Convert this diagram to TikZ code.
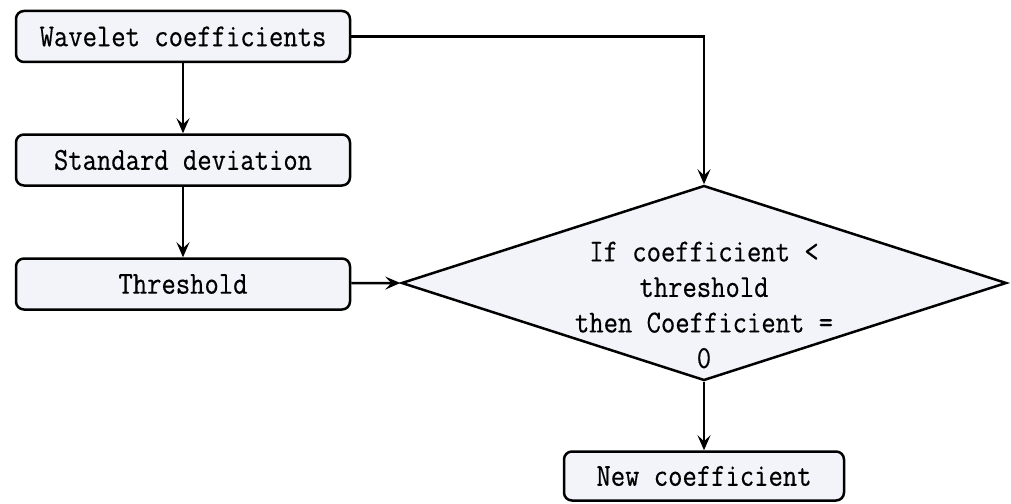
\documentclass[tikz,border=0pt]{standalone}
\usepackage{fontspec}
\newfontfamily\boxfont[FakeStretch=0.87,FakeBold=0.4]{Latin Modern Mono}
\usetikzlibrary{shapes.geometric,arrows.meta}
\definecolor{boxfill}{HTML}{F3F4F9}
\tikzset{
  procbox/.style={draw=black, line width=2.5pt, rounded corners=8pt, fill=boxfill,
    minimum width=334pt, minimum height=51pt, inner sep=0pt,
    font=\boxfont\fontsize{32}{35}\selectfont},
  decbox/.style={draw=black, line width=2.5pt, fill=boxfill, shape=diamond,
    minimum width=605pt, minimum height=195pt, inner sep=0pt},
  dectext/.style={align=center, inner sep=0pt, font=\boxfont\fontsize{32}{35.5}\selectfont},
  conn/.style={draw=black, line width=2.5pt, -{Stealth[length=15pt,width=13pt,inset=6pt]}}
}
\begin{document}
\begin{tikzpicture}[x=1pt,y=-1pt]
\useasboundingbox (0,0) rectangle (1011,503);
\node[procbox] (wav) at (183,36.5) {Wavelet coefficients};
\node[procbox] (std) at (183,160) {Standard deviation};
\node[procbox] (thr) at (183,284) {Threshold};
\node[decbox] (dec) at (704,283) {};
\node[dectext] (dtx) at (704,305) {If coefficient <\\threshold\\then Coefficient =\\0};
\node[procbox, minimum width=280pt, minimum height=49pt] (new) at (704,476) {New coefficient};
\coordinate (corner) at (wav.east -| dec.north);
\draw[conn] (wav) -- (std);
\draw[conn] (std) -- (thr);
\draw[conn] (thr) -- (dec.west);
\draw[conn] (wav.east) -- (corner) -- (dec.north);
\draw[conn] (dec.south) -- (new.north);
\end{tikzpicture}
\end{document}
